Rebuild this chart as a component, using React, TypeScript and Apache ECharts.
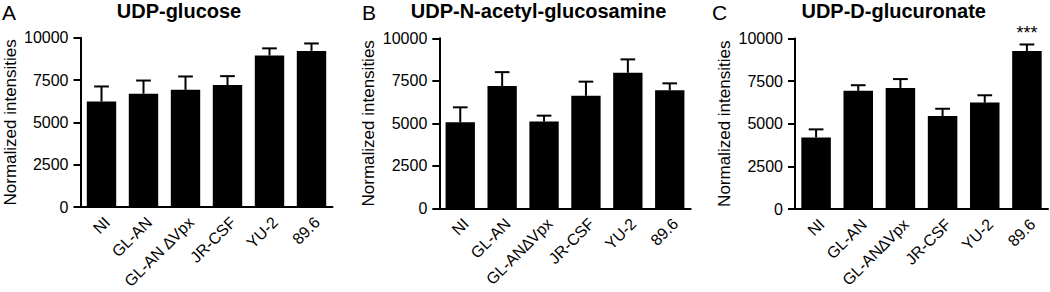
import React, { useEffect, useRef } from "react";
import * as echarts from "echarts";

const categoriesA = ["NI", "GL-AN", "GL-AN \u2206Vpx", "JR-CSF", "YU-2", "89.6"];
const categoriesBC = ["NI", "GL-AN", "GL-AN\u2206Vpx", "JR-CSF", "YU-2", "89.6"];

const titles = ["UDP-glucose", "UDP-N-acetyl-glucosamine", "UDP-D-glucuronate"];
const panelLetters = ["A", "B", "C"];

const meanA = [6230, 6690, 6920, 7200, 8950, 9220];
const errTopA = [7120, 7470, 7710, 7730, 9370, 9660];

const meanB = [5060, 7190, 5100, 6620, 7970, 6940];
const errTopB = [5940, 8010, 5450, 7450, 8760, 7350];

const meanC = [4200, 6930, 7100, 5450, 6240, 9260];
const errTopC = [4670, 7260, 7620, 5880, 6670, 9650];

const sigC = ["", "", "", "", "", "***"];

const yTicks = [0, 2500, 5000, 7500, 10000];

const FONT = "Liberation Sans, Arial, Helvetica, sans-serif";

export default function App() {
  const ref = useRef<HTMLDivElement>(null);

  useEffect(() => {
    document.body.style.margin = "0";
    if (!ref.current) return;
    const chart = echarts.init(ref.current, null, { renderer: "svg" });

    const grids = [
      { left: 80.5, top: 37.7, width: 252, height: 169.3, outerBoundsMode: "none", containLabel: false },
      { left: 439.3, top: 38.3, width: 251.4, height: 170, outerBoundsMode: "none", containLabel: false },
      { left: 795, top: 38.5, width: 253, height: 170.5, outerBoundsMode: "none", containLabel: false },
    ];
    const titleCenters = [179, 538.6, 893.7];
    const letterX = [2, 362, 712];

    const means = [meanA, meanB, meanC];
    const tops = [errTopA, errTopB, errTopC];
    const sigs = [null, null, sigC];

    const xAxes: any[] = [];
    const yAxes: any[] = [];
    const series: any[] = [];

    for (let i = 0; i < 3; i++) {
      xAxes.push({
        type: "category",
        gridIndex: i,
        data: i === 0 ? categoriesA : categoriesBC,
        axisLine: { lineStyle: { color: "#000", width: 2 } },
        axisTick: { alignWithLabel: true, length: 5, lineStyle: { color: "#000", width: 2 } },
        axisLabel: {
          rotate: 45,
          interval: 0,
          fontSize: 16,
          color: "#000",
          margin: 7,
          verticalAlign: "top",
          fontFamily: FONT,
          hideOverlap: false,
        },
      });
      yAxes.push({
        type: "value",
        gridIndex: i,
        min: yTicks[0],
        max: yTicks[yTicks.length - 1],
        interval: 2500,
        name: "Normalized intensities",
        nameLocation: "middle",
        nameGap: 62,
        nameTextStyle: { fontSize: 17, color: "#000", fontFamily: FONT },
        axisLine: { show: true, lineStyle: { color: "#000", width: 2 } },
        axisTick: { show: true, length: 7, lineStyle: { color: "#000", width: 2 } },
        axisLabel: {
          fontSize: 16,
          color: "#000",
          margin: 12,
          fontFamily: FONT,
          formatter: (v: number) => String(v),
        },
        splitLine: { show: false },
      });
      series.push({
        type: "bar",
        xAxisIndex: i,
        yAxisIndex: i,
        data: means[i],
        barWidth: "70%",
        itemStyle: { color: "#000" },
        silent: true,
      });
      const sigArr = sigs[i];
      series.push({
        type: "custom",
        xAxisIndex: i,
        yAxisIndex: i,
        silent: true,
        z: 5,
        data: means[i].map((m, k) => [k, tops[i][k], m]),
        encode: { x: 0, y: 1 },
        renderItem: (params: any, api: any) => {
          const xi = api.value(0);
          const top = api.value(1);
          const mean = api.value(2);
          const pTop = api.coord([xi, top]);
          const pMean = api.coord([xi, mean]);
          const bw = api.size([1, 0])[0] * 0.7;
          const cap = bw / 4;
          const children: any[] = [
            {
              type: "line",
              shape: { x1: pTop[0], y1: pTop[1], x2: pMean[0], y2: pMean[1] },
              style: { stroke: "#000", lineWidth: 2 },
            },
            {
              type: "line",
              shape: { x1: pTop[0] - cap, y1: pTop[1], x2: pTop[0] + cap, y2: pTop[1] },
              style: { stroke: "#000", lineWidth: 2 },
            },
          ];
          if (sigArr && sigArr[params.dataIndex]) {
            children.push({
              type: "text",
              x: pTop[0],
              y: pTop[1] - 2,
              style: {
                text: sigArr[params.dataIndex],
                fontSize: 18,
                fontFamily: FONT,
                fill: "#000",
                align: "center",
                verticalAlign: "bottom",
              },
            });
          }
          return { type: "group", children };
        },
      });
    }

    const option: any = {
      animation: false,
      backgroundColor: "#fff",
      title: titles.map((t, i) => ({
        text: t,
        left: titleCenters[i],
        top: 1,
        padding: 0,
        textAlign: "center",
        textStyle: { fontSize: 20, fontWeight: "bold", color: "#000", fontFamily: FONT },
      })),
      graphic: panelLetters.map((l, i) => ({
        type: "text",
        left: letterX[i],
        top: 2,
        style: { text: l, fontSize: 21, fill: "#000", fontFamily: FONT },
      })),
      grid: grids,
      xAxis: xAxes,
      yAxis: yAxes,
      series,
    };

    chart.setOption(option);
    return () => chart.dispose();
  }, []);

  return <div ref={ref} style={{ width: 1050, height: 292 }} />;
}
